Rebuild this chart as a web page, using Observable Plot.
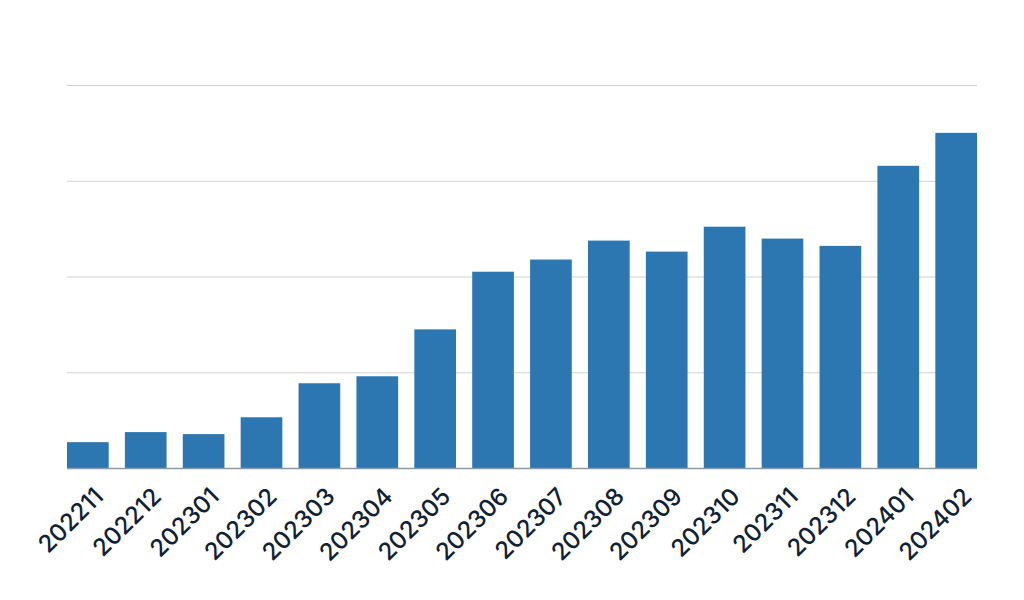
<!DOCTYPE html>
<html>
<head>
<meta charset="utf-8">
<script src="https://cdn.jsdelivr.net/npm/d3@7"></script>
<script src="https://cdn.jsdelivr.net/npm/@observablehq/plot@0.6"></script>
<style>
  html, body { margin: 0; padding: 0; background: #fff; }
  #chart svg { display: block; }
</style>
</head>
<body>
<div id="chart"></div>
<script>
const months = ["202211","202212","202301","202302","202303","202304","202305","202306","202307","202308","202309","202310","202311","202312","202401","202402"];
const values = [0.27, 0.375, 0.354, 0.53, 0.885, 0.958, 1.448, 2.05, 2.177, 2.375, 2.26, 2.52, 2.396, 2.32, 3.156, 3.5];
const gridValues = [1, 2, 3, 4];

const data = months.map((m, i) => ({month: m, value: values[i]}));

const chart = Plot.plot({
  width: 1024,
  height: 600,
  marginLeft: 67,
  marginRight: 47,
  marginTop: 85,
  marginBottom: 132,
  style: {fontFamily: "Inter, 'Open Sans', sans-serif", fontSize: "24px", color: "#0f2133", background: "#fff"},
  x: {domain: months, paddingInner: 0.28, paddingOuter: 0, round: false, label: null},
  y: {domain: [0, 4], axis: null},
  marks: [
    Plot.ruleY(gridValues, {stroke: "#cfd2d6", strokeWidth: 1.2}),
    Plot.barY(data, {x: "month", y: "value", fill: "#2c77b1"}),
    Plot.ruleY([0], {stroke: "#8c99a6", strokeWidth: 1.5}),
    Plot.axisX({tickRotate: -45, tickSize: 0, tickPadding: 24, dx: 11, fontSize: 24, fontWeight: 500, fill: "#0f2133", label: null})
  ]
});
document.getElementById("chart").appendChild(chart);
</script>
</body>
</html>
